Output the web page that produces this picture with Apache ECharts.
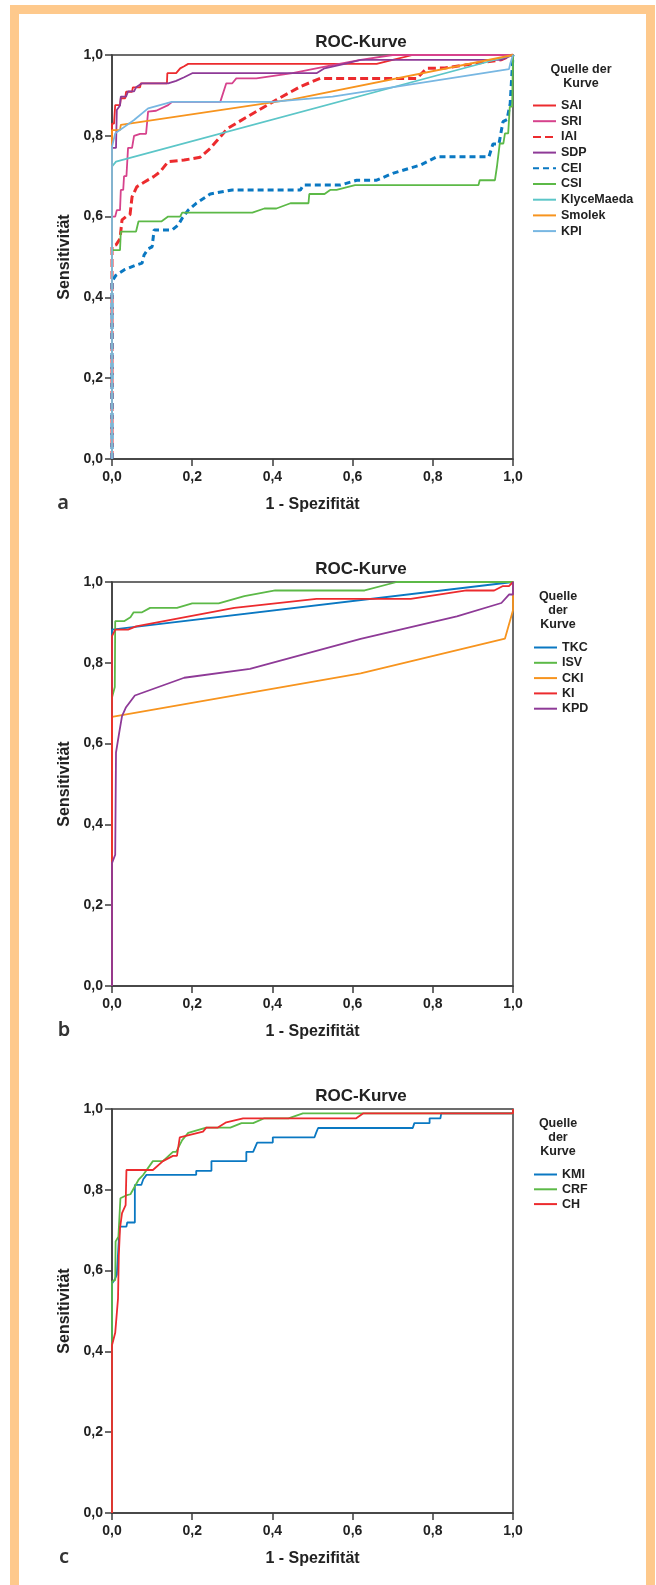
<!DOCTYPE html>
<html><head><meta charset="utf-8">
<script src="https://cdn.jsdelivr.net/npm/echarts@6/dist/echarts.min.js"></script>
<style>html,body{margin:0;padding:0;background:#fff}#c{width:656px;height:1585px}</style>
</head><body><div id="c"></div>
<script>
// ---- tick labels ----
const tickLabels = ['0,0','0,2','0,4','0,6','0,8','1,0'];
const panelLetters = ['a','b','c'];
const titleText = 'ROC-Kurve';
const xName = '1 - Spezifität';
const yName = 'Sensitivität';

// ---- chart a ----
const namesA = ['SAI','SRI','IAI','SDP','CEI','CSI','KlyceMaeda','Smolek','KPI'];
const SAI = [[0,0],[0,0.83],[0.005,0.83],[0.008,0.876],[0.02,0.876],[0.022,0.893],[0.033,0.893],[0.035,0.909],[0.05,0.909],[0.052,0.92],[0.07,0.92],[0.072,0.93],[0.137,0.93],[0.138,0.955],[0.16,0.955],[0.17,0.967],[0.18,0.972],[0.19,0.978],[0.66,0.978],[0.7,0.988],[0.75,1.0],[1,1]];
const SRI = [[0,0],[0,0.6],[0.008,0.6],[0.012,0.616],[0.02,0.616],[0.022,0.666],[0.028,0.666],[0.03,0.7],[0.036,0.7],[0.04,0.77],[0.05,0.77],[0.055,0.8],[0.07,0.805],[0.085,0.805],[0.09,0.86],[0.11,0.862],[0.14,0.876],[0.15,0.884],[0.27,0.884],[0.285,0.93],[0.3,0.93],[0.31,0.942],[0.36,0.942],[0.45,0.955],[0.55,0.975],[0.62,0.988],[0.7,1.0],[1,1]];
const IAI = [[0,0],[0,0.526],[0.01,0.53],[0.02,0.545],[0.025,0.592],[0.035,0.6],[0.045,0.605],[0.05,0.649],[0.062,0.674],[0.08,0.685],[0.104,0.699],[0.12,0.711],[0.14,0.736],[0.18,0.74],[0.22,0.747],[0.245,0.769],[0.274,0.802],[0.288,0.818],[0.344,0.851],[0.41,0.889],[0.47,0.922],[0.519,0.942],[0.76,0.942],[0.785,0.967],[0.83,0.968],[0.88,0.975],[0.97,0.988],[1,1]];
const SDP = [[0,0],[0,0.77],[0.01,0.77],[0.012,0.864],[0.02,0.875],[0.022,0.897],[0.035,0.897],[0.04,0.91],[0.055,0.91],[0.06,0.92],[0.075,0.93],[0.14,0.93],[0.16,0.936],[0.18,0.945],[0.2,0.955],[0.51,0.955],[0.53,0.967],[0.58,0.978],[0.62,0.988],[0.97,0.988],[1,1]];
const CEI = [[0,0],[0,0.44],[0.01,0.455],[0.03,0.468],[0.06,0.48],[0.075,0.485],[0.08,0.505],[0.09,0.52],[0.1,0.525],[0.105,0.567],[0.15,0.567],[0.165,0.579],[0.175,0.596],[0.19,0.616],[0.21,0.633],[0.245,0.656],[0.3,0.666],[0.47,0.666],[0.477,0.678],[0.57,0.678],[0.61,0.69],[0.66,0.69],[0.7,0.707],[0.77,0.728],[0.81,0.748],[0.94,0.748],[0.95,0.78],[0.965,0.78],[0.975,0.835],[0.985,0.84],[0.993,0.88],[1,1]];
const CSI = [[0,0],[0,0.517],[0.02,0.517],[0.022,0.563],[0.06,0.563],[0.066,0.588],[0.123,0.588],[0.14,0.6],[0.17,0.6],[0.175,0.61],[0.35,0.61],[0.38,0.62],[0.41,0.62],[0.445,0.633],[0.49,0.633],[0.492,0.656],[0.53,0.656],[0.544,0.666],[0.56,0.666],[0.606,0.678],[0.914,0.678],[0.917,0.69],[0.955,0.69],[0.96,0.724],[0.967,0.781],[0.976,0.781],[0.98,0.806],[0.988,0.806],[0.992,0.872],[0.998,0.872],[1,1]];
const KlyceMaeda = [[0,0],[0,0.724],[0.01,0.736],[1,1]];
const Smolek = [[0,0],[0,0.814],[0.02,0.814],[0.022,0.827],[0.45,0.89],[1,1]];
const KPI = [[0,0],[0,0.773],[0.008,0.806],[0.055,0.839],[0.09,0.868],[0.149,0.884],[0.4,0.884],[0.55,0.897],[0.99,0.965],[0.993,0.978],[1,1]];

// ---- chart b ----
const namesB = ['TKC','ISV','CKI','KI','KPD'];
const TKC = [[0,0],[0,0.882],[1,1]];
const ISV = [[0,0],[0,0.714],[0.007,0.74],[0.008,0.903],[0.03,0.903],[0.046,0.913],[0.054,0.925],[0.075,0.925],[0.095,0.936],[0.162,0.936],[0.2,0.947],[0.266,0.947],[0.33,0.965],[0.407,0.979],[0.63,0.979],[0.71,1.0],[1,1]];
const CKI = [[0,0],[0,0.666],[0.62,0.774],[0.98,0.86],[1,0.93],[1,1]];
const KI = [[0,0],[0,0.866],[0.008,0.882],[0.04,0.882],[0.06,0.89],[0.305,0.936],[0.51,0.958],[0.745,0.958],[0.884,0.979],[0.953,0.979],[0.975,0.99],[0.99,0.99],[1,1]];
const KPD = [[0,0],[0,0.304],[0.008,0.325],[0.01,0.578],[0.018,0.627],[0.025,0.668],[0.035,0.69],[0.057,0.719],[0.18,0.763],[0.344,0.785],[0.62,0.859],[0.86,0.915],[0.971,0.948],[0.99,0.969],[1,0.969],[1,1]];

// ---- chart c ----
const namesC = ['KMI','CRF','CH'];
const KMI = [[0,0],[0,0.568],[0.007,0.578],[0.012,0.59],[0.015,0.59],[0.019,0.709],[0.036,0.709],[0.038,0.719],[0.057,0.719],[0.057,0.812],[0.073,0.812],[0.078,0.826],[0.086,0.837],[0.21,0.837],[0.21,0.847],[0.248,0.847],[0.248,0.871],[0.335,0.871],[0.335,0.894],[0.352,0.894],[0.362,0.917],[0.401,0.917],[0.401,0.93],[0.505,0.93],[0.509,0.941],[0.514,0.953],[0.75,0.953],[0.754,0.965],[0.792,0.965],[0.792,0.977],[0.819,0.977],[0.821,0.989],[1,0.989],[1,1]];
const CRF = [[0,0],[0,0.573],[0.008,0.577],[0.009,0.672],[0.016,0.684],[0.021,0.779],[0.035,0.786],[0.046,0.789],[0.067,0.826],[0.078,0.837],[0.102,0.871],[0.127,0.871],[0.152,0.894],[0.16,0.894],[0.175,0.923],[0.19,0.941],[0.235,0.954],[0.295,0.954],[0.323,0.965],[0.352,0.965],[0.38,0.977],[0.44,0.977],[0.476,0.989],[1,0.989],[1,1]];
const CH = [[0,0],[0,0.415],[0.008,0.446],[0.015,0.531],[0.017,0.639],[0.02,0.705],[0.025,0.742],[0.034,0.762],[0.036,0.849],[0.102,0.849],[0.127,0.871],[0.152,0.884],[0.162,0.884],[0.169,0.93],[0.227,0.944],[0.235,0.954],[0.264,0.954],[0.285,0.967],[0.327,0.977],[0.609,0.977],[0.626,0.989],[1,0.989],[1,1]];

// ---- styles ----
const RED='#EC2B2E', PINK='#D6428C', PURPLE='#8E3A97', BLUE='#0A78C2', GREEN='#5CB947', TEAL='#5CC6C8', ORANGE='#F7941E', LBLUE='#78B7E2';
const AX='#3c3c3c', TXT='#222', FRAME='#FEC98C';
const FONT="'Liberation Sans', Arial, sans-serif";
const LW = 1.8, DW = 3;

const seriesSpec = [
  ['SAI',SAI,RED,LW,'solid',0],['SRI',SRI,PINK,LW,'solid',0],['IAI',IAI,RED,DW,[8,4],0],['SDP',SDP,PURPLE,LW,'solid',0],
  ['CEI',CEI,BLUE,DW,[6,4],0],['CSI',CSI,GREEN,LW,'solid',0],['KlyceMaeda',KlyceMaeda,TEAL,LW,'solid',0],['Smolek',Smolek,ORANGE,LW,'solid',0],['KPI',KPI,LBLUE,LW,'solid',0],
  ['TKC',TKC,BLUE,LW,'solid',1],['ISV',ISV,GREEN,LW,'solid',1],['CKI',CKI,ORANGE,LW,'solid',1],['KI',KI,RED,LW,'solid',1],['KPD',KPD,PURPLE,LW,'solid',1],
  ['KMI',KMI,BLUE,LW,'solid',2],['CRF',CRF,GREEN,LW,'solid',2],['CH',CH,RED,LW,'solid',2]
];

const gridTops = [55, 582, 1109];
const grids = gridTops.map(t => ({left:112, top:t, width:401, height:404, show:true, borderColor:AX, borderWidth:1.5, backgroundColor:'transparent'}));
const fmt = v => tickLabels[Math.round(v/0.2)];
const axisCommon = {type:'value', min:0, max:1, interval:0.2,
  axisLine:{show:true, onZero:false, lineStyle:{color:AX,width:1.5}},
  axisTick:{show:true, length:7, lineStyle:{color:AX,width:1.5}},
  splitLine:{show:false},
  nameLocation:'middle',
  nameTextStyle:{fontFamily:FONT,fontSize:16,fontWeight:'bold',color:TXT}};
const xAxes = gridTops.map((t,i)=>Object.assign({}, axisCommon, {gridIndex:i, name:xName, nameGap:38,
  axisLabel:{margin:11, fontFamily:FONT, fontSize:14, fontWeight:'bold', color:TXT, formatter:fmt}}));
const yAxes = gridTops.map((t,i)=>Object.assign({}, axisCommon, {gridIndex:i, name:yName, nameGap:37,
  axisLabel:{margin:9, fontFamily:FONT, fontSize:14, fontWeight:'bold', color:TXT, formatter:fmt}}));

const series = seriesSpec.map(s => ({type:'line', name:s[0], data:s[1], xAxisIndex:s[5], yAxisIndex:s[5],
  symbol:'none', showSymbol:false, smooth:false, clip:false,
  lineStyle:{color:s[2], width:s[3], type:s[4]}, itemStyle:{color:s[2]}}));

const legendCommon = {orient:'vertical', itemWidth:23, itemHeight:14, padding:0,
  itemStyle:{opacity:0, color:'rgba(0,0,0,0)', borderWidth:0},
  textStyle:{fontFamily:FONT, fontSize:12.5, fontWeight:'bold', color:TXT}};
const legends = [
  Object.assign({}, legendCommon, {data:namesA, left:532, top:99, itemGap:2.7}),
  Object.assign({}, legendCommon, {data:namesB, left:533, top:641, itemGap:2.3}),
  Object.assign({}, legendCommon, {data:namesC, left:533, top:1168, itemGap:1.8})
];

const tStyle = (size) => ({fontFamily:FONT, fontSize:size, fontWeight:'bold', fill:TXT});
const txt = (x,y,text,size) => ({type:'text', x:x, y:y, style:Object.assign(tStyle(size),{text:text, align:'center', verticalAlign:'middle'})});
const letter = (x,y,t) => ({type:'text', x:x, y:y, style:{text:t, fontFamily:"'Noto Sans', sans-serif", fontSize:20, fontWeight:600, fill:'#333', align:'center', verticalAlign:'middle'}});
const graphic = [
  {type:'rect', shape:{x:10,y:5,width:645,height:9}, style:{fill:FRAME}},
  {type:'rect', shape:{x:10,y:5,width:9,height:1580}, style:{fill:FRAME}},
  {type:'rect', shape:{x:646,y:5,width:9,height:1580}, style:{fill:FRAME}},
  txt(361,42,titleText,17), txt(361,569,titleText,17), txt(361,1096,titleText,17),
  txt(581,70,'Quelle der',12.5), txt(581,84,'Kurve',12.5),
  txt(558,597,'Quelle',12.5), txt(558,611,'der',12.5), txt(558,625,'Kurve',12.5),
  txt(558,1124,'Quelle',12.5), txt(558,1138,'der',12.5), txt(558,1152,'Kurve',12.5),
  letter(63,503,panelLetters[0]), letter(64,1030,panelLetters[1]), letter(64,1557,panelLetters[2])
];

const chart = echarts.init(document.getElementById('c'), null, {renderer:'canvas'});
chart.setOption({animation:false, backgroundColor:'#fff', grid:grids, xAxis:xAxes, yAxis:yAxes, legend:legends, series:series, graphic:graphic});
</script></body></html>
